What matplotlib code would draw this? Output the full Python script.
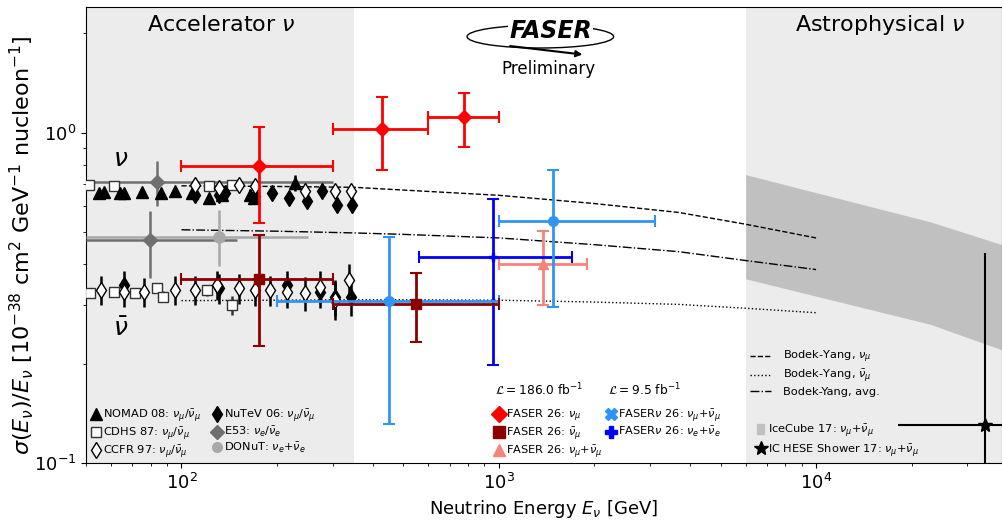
import matplotlib
matplotlib.use("Agg")
import matplotlib.pyplot as plt
from matplotlib.lines import Line2D
from matplotlib.patches import Patch, Ellipse, FancyArrowPatch

# -------------------------------------------
# Data: sigma/E in 10^-38 cm^2 GeV^-1 nucleon^-1, energies in GeV
# -------------------------------------------
# Accelerator measurements (nu band and nubar band)
nomad_E = [54.9, 56.9, 64.2, 65.8, 75.2, 85.9, 95.7, 108, 121.9, 134.4, 164.9, 169, 228.6]
nomad_s = [0.657, 0.659, 0.657, 0.657, 0.661, 0.657, 0.666, 0.657, 0.634, 0.649, 0.649, 0.634, 0.704]
nomad_err = [0.015, 0.015, 0.015, 0.015, 0.015, 0.015, 0.016, 0.02, 0.02, 0.02, 0.025, 0.025, 0.04]

nutev_nu_E = [110.7, 131, 137.6, 171, 192.9, 217.8, 248.8, 277, 309.3, 345]
nutev_nu_s = [0.649, 0.649, 0.657, 0.641, 0.657, 0.634, 0.619, 0.664, 0.605, 0.605]
nutev_nu_err = [0.02, 0.02, 0.02, 0.02, 0.02, 0.025, 0.025, 0.025, 0.03, 0.03]
nutev_nb_E = [65.8, 131, 215.4, 274, 305.5, 342.5]
nutev_nb_s = [0.346, 0.338, 0.346, 0.330, 0.319, 0.319]
nutev_nb_err = [0.035, 0.035, 0.035, 0.035, 0.04, 0.04]

cdhs_nu_E = [51.0, 61.2, 121.9, 144.4]
cdhs_nu_s = [0.696, 0.691, 0.691, 0.696]
cdhs_nu_err = [0.012, 0.012, 0.012, 0.012]
cdhs_nb_E = [51.5, 61.2, 71.6, 83.8, 87.6, 120.5, 144.4]
cdhs_nb_s = [0.327, 0.330, 0.328, 0.338, 0.319, 0.333, 0.301]
cdhs_nb_err = [0.01, 0.01, 0.01, 0.012, 0.012, 0.012, 0.02]

ccfr_nu_E = [110.7, 131, 151.6, 171, 245.8, 305.5, 342.5]
ccfr_nu_s = [0.696, 0.680, 0.696, 0.688, 0.664, 0.664, 0.664]
ccfr_nu_err = [0.02, 0.02, 0.02, 0.02, 0.025, 0.03, 0.03]
ccfr_nb_E = [55.6, 65.8, 76.1, 95.7, 110.7, 129.6, 151.6, 171, 190.6, 215.4, 245.8, 274, 305.5, 336.5]
ccfr_nb_s = [0.334, 0.330, 0.330, 0.334, 0.334, 0.346, 0.338, 0.334, 0.334, 0.330, 0.327, 0.342, 0.312, 0.358]
ccfr_nb_err = [0.033, 0.033, 0.033, 0.033, 0.033, 0.035, 0.035, 0.035, 0.035, 0.035, 0.038, 0.038, 0.042, 0.042]

e53_E = [83.8, 79.8]
e53_s = [0.709, 0.472]
e53_lo = [0.601, 0.363]
e53_hi = [0.819, 0.578]
e53_Elo = [50, 50]
e53_Ehi = [300, 150]

donut_E = [131]
donut_s = [0.483]
donut_lo = [0.394]
donut_hi = [0.584]
donut_Elo = [50]
donut_Ehi = [251]

# FASER 26 results
faser_numu_E = [175, 427, 778]
faser_numu_s = [0.794, 1.026, 1.116]
faser_numu_Elo = [100, 300, 600]
faser_numu_Ehi = [300, 600, 1000]
faser_numu_lo = [0.534, 0.77, 0.907]
faser_numu_hi = [1.04, 1.28, 1.32]

faser_nubar_E = [175, 548]
faser_nubar_s = [0.360, 0.303]
faser_nubar_Elo = [100, 300]
faser_nubar_Ehi = [300, 1000]
faser_nubar_lo = [0.226, 0.232]
faser_nubar_hi = [0.491, 0.377]

faser_sum_E = [1374]
faser_sum_s = [0.40]
faser_sum_Elo = [1000]
faser_sum_Ehi = [1900]
faser_sum_lo = [0.301]
faser_sum_hi = [0.502]

fasernu_mu_E = [450, 1486]
fasernu_mu_s = [0.310, 0.539]
fasernu_mu_Elo = [200, 1000]
fasernu_mu_Ehi = [1000, 3100]
fasernu_mu_lo = [0.131, 0.296]
fasernu_mu_hi = [0.484, 0.773]

fasernu_e_E = [960]
fasernu_e_s = [0.42]
fasernu_e_Elo = [560]
fasernu_e_Ehi = [1700]
fasernu_e_lo = [0.198]
fasernu_e_hi = [0.63]

# Bodek-Yang predictions
by_E = [100, 200, 350, 500, 1000, 2000, 3700, 6000, 10000]
by_numu = [0.69, 0.687, 0.683, 0.670, 0.646, 0.610, 0.573, 0.528, 0.48]
by_nubar = [0.31, 0.311, 0.312, 0.312, 0.311, 0.307, 0.302, 0.294, 0.285]
by_avg = [0.508, 0.503, 0.497, 0.492, 0.480, 0.458, 0.436, 0.41, 0.385]

# Astrophysical
icecube_E = [6000, 22900, 38550]
icecube_lo = [0.361, 0.263, 0.22]
icecube_hi = [0.746, 0.537, 0.458]

hese_E = [34000]
hese_s = [0.130]
hese_Elo = [18100]
hese_Ehi = [100000]
hese_lo = [0.03]
hese_hi = [0.433]


def asym(vals, lo, hi):
    return [[v - l for v, l in zip(vals, lo)], [h - v for v, h in zip(vals, hi)]]


# -------------------------------------------
# Plot
# -------------------------------------------
fig = plt.figure(figsize=(10.02, 5.2), dpi=100)
ax = fig.add_axes([0.0858, 0.1096, 0.9142, 0.877])
ax.set_xscale("log")
ax.set_yscale("log")
ax.set_xlim(50, 38550)
ax.set_ylim(0.1, 2.4)

ax.axvspan(50, 350, color="#ececec", zorder=0, lw=0)
ax.axvspan(6000, 38550, color="#ececec", zorder=0, lw=0)

ax.text(0.148, 0.96, r"Accelerator $\nu$", transform=ax.transAxes, ha="center", va="center", fontsize=16)
ax.text(0.867, 0.96, r"Astrophysical $\nu$", transform=ax.transAxes, ha="center", va="center", fontsize=16)

# IceCube band
ax.fill_between(icecube_E, icecube_lo, icecube_hi, color="#c0c0c0", lw=0, zorder=1)

# Bodek-Yang curves
ax.plot(by_E, by_numu, "k--", lw=1.0, zorder=2)
ax.plot(by_E, by_nubar, "k:", lw=1.0, zorder=2)
ax.plot(by_E, by_avg, "k-.", lw=1.0, zorder=2)

# Historical accelerator data
hist = dict(ls="none", elinewidth=1.8, capsize=0, zorder=3)
ax.errorbar(e53_E, e53_s, yerr=asym(e53_s, e53_lo, e53_hi),
            xerr=asym(e53_E, e53_Elo, e53_Ehi), marker="D", ms=7,
            color="#6f6f6f", ecolor="#6f6f6f", **hist)
ax.errorbar(donut_E, donut_s, yerr=asym(donut_s, donut_lo, donut_hi),
            xerr=asym(donut_E, donut_Elo, donut_Ehi), marker="o", ms=8,
            color="#a8a8a8", ecolor="#a8a8a8", **hist)

ax.errorbar(cdhs_nu_E, cdhs_nu_s, yerr=cdhs_nu_err, marker="s", ms=7, mfc="white", mec="#333333", ecolor="#333333", **hist)
ax.errorbar(cdhs_nb_E, cdhs_nb_s, yerr=cdhs_nb_err, marker="s", ms=7, mfc="white", mec="#333333", ecolor="#333333", **hist)
ax.errorbar(nomad_E, nomad_s, yerr=nomad_err, marker="^", ms=8, color="black", **hist)
ax.errorbar(nutev_nu_E, nutev_nu_s, yerr=nutev_nu_err, marker="d", ms=8.5, color="black", **hist)
ax.errorbar(nutev_nb_E, nutev_nb_s, yerr=nutev_nb_err, marker="d", ms=8.5, color="black", **hist)
ax.errorbar(ccfr_nu_E, ccfr_nu_s, yerr=ccfr_nu_err, marker="d", ms=8.5, mfc="white", mec="black", ecolor="black", **hist)
ax.errorbar(ccfr_nb_E, ccfr_nb_s, yerr=ccfr_nb_err, marker="d", ms=8.5, mfc="white", mec="black", ecolor="black", **hist)

ax.text(64.2, 0.83, r"$\nu$", fontsize=18, ha="center", va="center")
ax.text(64.2, 0.255, r"$\bar{\nu}$", fontsize=18, ha="center", va="center")

# FASER points
fas = dict(ls="none", elinewidth=2, capsize=4, capthick=1.5, zorder=5)
ax.errorbar(faser_sum_E, faser_sum_s, yerr=asym(faser_sum_s, faser_sum_lo, faser_sum_hi),
            xerr=asym(faser_sum_E, faser_sum_Elo, faser_sum_Ehi), marker="^", ms=7,
            color="#f88379", **fas)
ax.errorbar(fasernu_e_E, fasernu_e_s, yerr=asym(fasernu_e_s, fasernu_e_lo, fasernu_e_hi),
            xerr=asym(fasernu_e_E, fasernu_e_Elo, fasernu_e_Ehi), marker="P", ms=6,
            color="#0000ff", **fas)
ax.errorbar(fasernu_mu_E, fasernu_mu_s, yerr=asym(fasernu_mu_s, fasernu_mu_lo, fasernu_mu_hi),
            xerr=asym(fasernu_mu_E, fasernu_mu_Elo, fasernu_mu_Ehi), marker="o", ms=7,
            color="#2f95f5", **fas)
ax.errorbar(faser_nubar_E, faser_nubar_s, yerr=asym(faser_nubar_s, faser_nubar_lo, faser_nubar_hi),
            xerr=asym(faser_nubar_E, faser_nubar_Elo, faser_nubar_Ehi), marker="s", ms=7,
            color="#8b0000", **fas)
ax.errorbar(faser_numu_E, faser_numu_s, yerr=asym(faser_numu_s, faser_numu_lo, faser_numu_hi),
            xerr=asym(faser_numu_E, faser_numu_Elo, faser_numu_Ehi), marker="D", ms=7,
            color="#ff0000", **fas)

# IceCube HESE shower
ax.errorbar(hese_E, hese_s, yerr=asym(hese_s, hese_lo, hese_hi),
            xerr=asym(hese_E, hese_Elo, hese_Ehi), marker="*", ms=10,
            color="black", ls="none", elinewidth=1.5, capsize=0, zorder=5)

# FASER logo
ax.add_patch(Ellipse((0.496, 0.935), 0.16, 0.05, transform=ax.transAxes,
                     fill=False, lw=1.0, color="black", zorder=6))
ax.text(0.507, 0.947, "FASER", transform=ax.transAxes, ha="center", va="center",
        fontsize=17, fontweight="bold", style="italic", zorder=7,
        bbox=dict(boxstyle="square,pad=0.05", fc="white", ec="none"))
ax.add_patch(FancyArrowPatch((0.46, 0.915), (0.545, 0.895), transform=ax.transAxes,
                             arrowstyle="-|>", mutation_scale=9, lw=1.5, color="black", zorder=7))
ax.text(0.505, 0.865, "Preliminary", transform=ax.transAxes, ha="center", va="center", fontsize=12)

# Axis labels
ax.set_xlabel(r"Neutrino Energy $E_\nu$ [GeV]", fontsize=13)
ax.set_ylabel(r"$\sigma(E_\nu)/E_\nu$ [$10^{-38}$ cm$^2$ GeV$^{-1}$ nucleon$^{-1}$]", fontsize=16)
ax.yaxis.set_label_coords(-0.055, 0.478)
ax.tick_params(axis="both", which="major", labelsize=13)

# -------------------------------------------
# Legends
# -------------------------------------------
FS = 8.2
leg_kw = dict(frameon=False, fontsize=FS, handletextpad=0.1, handlelength=1.0,
              labelspacing=0.12, borderpad=0.0, borderaxespad=0.0)

hist_handles = [
    Line2D([], [], marker="^", color="black", ls="none", ms=8),
    Line2D([], [], marker="s", mfc="white", mec="#333333", ls="none", ms=7),
    Line2D([], [], marker="d", mfc="white", mec="black", ls="none", ms=8),
    Line2D([], [], marker="d", color="black", ls="none", ms=8),
    Line2D([], [], marker="D", color="#6f6f6f", ls="none", ms=7),
    Line2D([], [], marker="o", color="#a8a8a8", ls="none", ms=7),
]
hist_labels = [r"NOMAD 08: $\nu_\mu/\bar{\nu}_\mu$", r"CDHS 87: $\nu_\mu/\bar{\nu}_\mu$",
               r"CCFR 97: $\nu_\mu/\bar{\nu}_\mu$", r"NuTeV 06: $\nu_\mu/\bar{\nu}_\mu$",
               r"E53: $\nu_e/\bar{\nu}_e$", r"DONuT: $\nu_e$+$\bar{\nu}_e$"]
leg1 = ax.legend(hist_handles, hist_labels, loc="upper left", bbox_to_anchor=(0.005, 0.122),
                 ncol=2, columnspacing=0.9, **leg_kw)
ax.add_artist(leg1)

# Luminosity headers over the two FASER legend columns
ax.text(0.4465, 0.160, r"$\mathcal{L} = 186.0$ fb$^{-1}$", transform=ax.transAxes,
        ha="left", va="center", fontsize=8.8)
ax.text(0.570, 0.160, r"$\mathcal{L} = 9.5$ fb$^{-1}$", transform=ax.transAxes,
        ha="left", va="center", fontsize=8.8)

faser_handles = [
    Line2D([], [], marker="D", color="#ff0000", ls="none", ms=8),
    Line2D([], [], marker="s", color="#8b0000", ls="none", ms=8),
    Line2D([], [], marker="^", color="#f88379", ls="none", ms=8),
]
faser_labels = [r"FASER 26: $\nu_\mu$", r"FASER 26: $\bar{\nu}_\mu$", r"FASER 26: $\nu_\mu$+$\bar{\nu}_\mu$"]
leg2 = ax.legend(faser_handles, faser_labels, loc="upper left", bbox_to_anchor=(0.445, 0.122), **leg_kw)
ax.add_artist(leg2)

fnu_handles = [
    Line2D([], [], marker="X", color="#2f95f5", ls="none", ms=8),
    Line2D([], [], marker="P", color="#0000ff", ls="none", ms=8),
]
fnu_labels = [r"FASER$\nu$ 26: $\nu_\mu$+$\bar{\nu}_\mu$", r"FASER$\nu$ 26: $\nu_e$+$\bar{\nu}_e$"]
leg3 = ax.legend(fnu_handles, fnu_labels, loc="upper left", bbox_to_anchor=(0.567, 0.122), **leg_kw)
ax.add_artist(leg3)

by_handles = [Line2D([], [], color="black", ls="--", lw=1.0),
              Line2D([], [], color="black", ls=":", lw=1.0),
              Line2D([], [], color="black", ls="-.", lw=1.0)]
by_labels = [r"Bodek-Yang, $\nu_\mu$", r"Bodek-Yang, $\bar{\nu}_\mu$", "Bodek-Yang, avg."]
leg4 = ax.legend(by_handles, by_labels, loc="upper left", bbox_to_anchor=(0.725, 0.25),
                 frameon=False, fontsize=FS, handlelength=1.8, handletextpad=1.1,
                 labelspacing=0.2, borderpad=0.0, borderaxespad=0.0)
ax.add_artist(leg4)

astro_handles = [Patch(color="#c0c0c0"), Line2D([], [], marker="*", color="black", ls="none", ms=10)]
astro_labels = [r"IceCube 17: $\nu_\mu$+$\bar{\nu}_\mu$", r"IC HESE Shower 17: $\nu_\mu$+$\bar{\nu}_\mu$"]
ax.legend(astro_handles, astro_labels, loc="upper left", bbox_to_anchor=(0.733, 0.09),
          frameon=False, fontsize=FS, handlelength=0.6, handleheight=1.0, handletextpad=0.3,
          labelspacing=0.3, borderpad=0.0, borderaxespad=0.0)

plt.savefig("out.png", dpi=100)
